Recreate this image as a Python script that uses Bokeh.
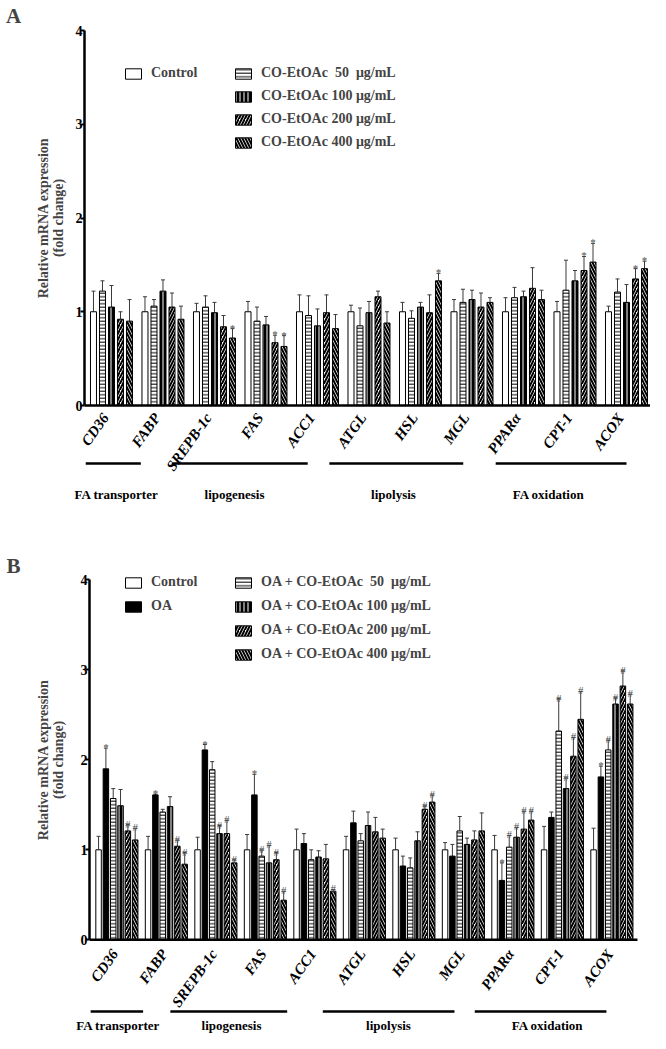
import math
import numpy as np
from bokeh.plotting import figure
from bokeh.models import (ColumnDataSource, Range1d, FixedTicker, Label,
                          Whisker, TeeHead, Legend, LegendItem)
from bokeh.layouts import column
from bokeh.embed import file_html
from bokeh.resources import INLINE
from bokeh.core.properties import value

SERIF = "Liberation Serif"

genes = ["CD36", "FABP", "SREPB-1c", "FAS", "ACC1", "ATGL", "HSL", "MGL", "PPARα", "CPT-1", "ACOX"]
group_names = ["FA transporter", "lipogenesis", "lipolysis", "FA oxidation"]

# ---------------- Panel A ----------------
a_series = ["Control", "CO-EtOAc  50  μg/mL", "CO-EtOAc 100 μg/mL",
            "CO-EtOAc 200 μg/mL", "CO-EtOAc 400 μg/mL"]
a_control = [1.00, 1.00, 1.00, 1.00, 1.00, 1.00, 1.00, 1.00, 1.00, 1.00, 1.00]
a_control_sem = [0.22, 0.16, 0.09, 0.11, 0.18, 0.07, 0.10, 0.13, 0.15, 0.11, 0.06]
a_50 = [1.22, 1.06, 1.05, 0.90, 0.96, 0.85, 0.93, 1.10, 1.15, 1.23, 1.21]
a_50_sem = [0.11, 0.07, 0.12, 0.15, 0.21, 0.19, 0.08, 0.14, 0.11, 0.32, 0.14]
a_100 = [1.05, 1.22, 0.99, 0.86, 0.85, 0.99, 1.05, 1.13, 1.16, 1.33, 1.10]
a_100_sem = [0.23, 0.12, 0.11, 0.09, 0.18, 0.12, 0.05, 0.10, 0.06, 0.11, 0.19]
a_200 = [0.92, 1.05, 0.84, 0.67, 0.99, 1.16, 0.99, 1.05, 1.25, 1.44, 1.35]
a_200_sem = [0.08, 0.15, 0.12, 0.08, 0.19, 0.06, 0.19, 0.15, 0.22, 0.15, 0.11]
a_400 = [0.90, 0.92, 0.72, 0.63, 0.82, 0.88, 1.33, 1.10, 1.13, 1.53, 1.46]
a_400_sem = [0.23, 0.14, 0.10, 0.115, 0.15, 0.12, 0.08, 0.05, 0.10, 0.20, 0.08]
a_none = ["", "", "", "", "", "", "", "", "", "", ""]
a_200_sig = ["", "", "", "*", "", "", "", "", "", "*", "*"]
a_400_sig = ["", "", "*", "*", "", "", "*", "", "", "*", "*"]

# ---------------- Panel B ----------------
b_series = ["Control", "OA", "OA + CO-EtOAc  50  μg/mL", "OA + CO-EtOAc 100 μg/mL",
            "OA + CO-EtOAc 200 μg/mL", "OA + CO-EtOAc 400 μg/mL"]
b_control = [1.00, 1.00, 1.00, 1.00, 1.00, 1.00, 1.00, 1.00, 1.00, 1.00, 1.00]
b_control_sem = [0.15, 0.15, 0.14, 0.17, 0.23, 0.15, 0.13, 0.08, 0.16, 0.26, 0.24]
b_oa = [1.90, 1.61, 2.11, 1.61, 1.07, 1.30, 0.82, 0.93, 0.66, 1.36, 1.81]
b_oa_sem = [0.23, 0.01, 0.06, 0.23, 0.11, 0.13, 0.11, 0.13, 0.195, 0.06, 0.12]
b_50 = [1.57, 1.42, 1.89, 0.93, 0.89, 1.10, 0.80, 1.21, 1.03, 2.32, 2.11]
b_50_sem = [0.11, 0.03, 0.09, 0.07, 0.11, 0.08, 0.11, 0.16, 0.13, 0.36, 0.11]
b_100 = [1.49, 1.48, 1.18, 0.855, 0.92, 1.27, 1.10, 1.06, 1.14, 1.68, 2.62]
b_100_sem = [0.18, 0.11, 0.09, 0.195, 0.07, 0.15, 0.10, 0.07, 0.11, 0.12, 0.07]
b_200 = [1.21, 1.04, 1.18, 0.89, 0.90, 1.20, 1.45, 1.11, 1.23, 2.04, 2.82]
b_200_sem = [0.07, 0.07, 0.15, 0.08, 0.16, 0.16, 0.04, 0.10, 0.20, 0.21, 0.17]
b_400 = [1.11, 0.84, 0.855, 0.44, 0.54, 1.13, 1.53, 1.21, 1.33, 2.45, 2.62]
b_400_sem = [0.13, 0.13, 0.035, 0.10, 0.02, 0.10, 0.08, 0.20, 0.10, 0.31, 0.11]
b_none = ["", "", "", "", "", "", "", "", "", "", ""]
b_oa_sig = ["*", "*", "*", "*", "", "", "", "", "*", "", "*"]
b_50_sig = ["", "", "", "#", "", "", "", "", "#", "#", "#"]
b_100_sig = ["", "", "#", "#", "", "", "", "", "#", "#", "#"]
b_200_sig = ["#", "#", "#", "#", "", "", "#", "", "#", "#", "#"]
b_400_sig = ["#", "#", "#", "#", "#", "", "#", "", "#", "#", "#"]

STY = {
    "control": dict(fill_color="white"),
    "oa": dict(fill_color="black"),
    "h": dict(fill_color="white", hatch_pattern="horizontal_line", hatch_color="black",
              hatch_scale=3.5, hatch_weight=1),
    "v": dict(fill_color="black", hatch_pattern="vertical_line", hatch_color="white",
              hatch_scale=4, hatch_weight=1),
    "r": dict(fill_color="white", hatch_pattern="right_diagonal_line", hatch_color="black",
              hatch_scale=6, hatch_weight=2),
    "l": dict(fill_color="white", hatch_pattern="left_diagonal_line", hatch_color="black",
              hatch_scale=6, hatch_weight=2),
}


def make_panel(letter, names, means, sems, sigs, styles, legend_split, cfg):
    p = figure(width=cfg["width"], height=cfg["height"],
               x_range=Range1d(*cfg["xr"]), y_range=Range1d(*cfg["yr"]),
               output_backend="svg", toolbar_location=None, x_axis_type=None,
               min_border_left=0, min_border_right=0,
               min_border_top=0, min_border_bottom=0)
    p.outline_line_color = None
    p.grid.grid_line_color = None
    p.background_fill_color = "white"

    ax = p.yaxis[0]
    ax.fixed_location = cfg["x_axis_at"]
    ax.bounds = (0, 4)
    ax.ticker = FixedTicker(ticks=[0, 1, 2, 3, 4])
    ax.axis_line_width = 2.5
    ax.major_tick_line_width = 2
    ax.major_tick_out = 4
    ax.major_tick_in = 0
    ax.minor_tick_line_color = None
    ax.major_label_standoff = -2
    ax.major_label_text_font = SERIF
    ax.major_label_text_font_style = "bold"
    ax.major_label_text_font_size = "14px"
    ax.major_label_text_color = "black"

    centers = np.arange(len(genes)) + 0.5
    n = len(names)
    rends = []
    for k in range(n):
        off = (k - (n - 1) / 2) * cfg["pitch"]
        m = np.array(means[k])
        s = np.array(sems[k])
        src = ColumnDataSource(dict(x=centers + off, top=m, upper=m + s, sig=sigs[k]))
        r = p.vbar(x="x", top="top", bottom=0, width=cfg["bw"], source=src,
                   line_color="black", line_width=1, **STY[styles[k]])
        rends.append(r)
        p.add_layout(Whisker(source=src, base="x", lower="top", upper="upper",
                             dimension="height", line_color="#3a3a3a", line_width=1,
                             lower_head=None,
                             upper_head=TeeHead(size=4, line_color="#3a3a3a", line_width=1)))
        p.text(x="x", y="upper", text="sig", source=src, text_align="center",
               text_baseline="alphabetic", y_offset=-1, text_font=value(SERIF),
               text_font_size="11px", text_color="#505050")

    # x baseline (from the y axis to the end of the category range)
    p.segment(x0=[cfg["x_axis_at"]], y0=[0], x1=[cfg["x_end"]], y1=[0],
              line_color="black", line_width=2.5)

    # gene labels (rotated, bold italic)
    for xc, g in zip(centers, genes):
        p.add_layout(Label(x=xc + cfg["gdx"], y=cfg["gy"], text=g, angle=0.95,
                           text_align="right", text_baseline="middle",
                           text_font=SERIF, text_font_style="bold italic",
                           text_font_size="15px", text_color="black"))

    # function groups
    bx0 = [a for a, b in cfg["brackets"]]
    bx1 = [b for a, b in cfg["brackets"]]
    p.segment(x0=bx0, y0=cfg["by"], x1=bx1, y1=cfg["by"], line_color="black", line_width=2.5)
    p.text(x=cfg["glx"], y=cfg["gly"], text=group_names, text_align="center",
           text_baseline="alphabetic", text_font=value(SERIF), text_font_style="bold",
           text_font_size="13px", text_color="black")

    # panel letter and y title
    p.add_layout(Label(x=cfg["letter"][0], y=cfg["letter"][1], text=letter,
                       text_font=SERIF, text_font_style="bold", text_font_size="21px",
                       text_align="center", text_baseline="middle"))
    for xt, t in zip(cfg["ytx"], ["Relative mRNA expression", "(fold change)"]):
        p.add_layout(Label(x=xt, y=2.0, text=t, angle=math.pi / 2, text_font=SERIF,
                           text_font_style="bold", text_font_size="14px",
                           text_align="center", text_baseline="middle"))

    # legends
    common = dict(glyph_width=20, glyph_height=13, label_height=16, label_standoff=8,
                  padding=0, margin=0, border_line_color=None, background_fill_alpha=0,
                  label_text_font=SERIF, label_text_font_style="bold",
                  label_text_font_size="14px", spacing=cfg["lsp"])
    items1 = [LegendItem(label=names[k], renderers=[rends[k]]) for k in range(legend_split)]
    items2 = [LegendItem(label=names[k], renderers=[rends[k]]) for k in range(legend_split, n)]
    p.add_layout(Legend(items=items1, location=cfg["leg1"], **common))
    p.add_layout(Legend(items=items2, location=cfg["leg2"], **common))
    return p


cfgA = dict(width=650, height=522, xr=(-1.655, 10.966), yr=(-1.248, 4.32),
            x_axis_at=-0.024, x_end=10.966,
            pitch=0.1748, bw=0.1165, gdx=-0.117, gy=-0.10,
            brackets=[(0.0, 1.07), (1.67, 4.31), (4.73, 7.33), (7.96, 10.5)], by=-0.619,
            glx=[0.597, 2.889, 5.976, 8.986], gly=-0.949,
            letter=(-1.403, 4.16), ytx=(-0.82, -0.529),
            lsp=7, leg1=(123, 441), leg2=(233, 372))

cfgB = dict(width=650, height=511, xr=(-1.851, 11.28), yr=(-1.041, 4.637),
            x_axis_at=-0.053, x_end=11.017,
            pitch=0.148, bw=0.111, gdx=-0.04, gy=-0.125,
            brackets=[(-0.03, 1.03), (1.58, 3.94), (4.66, 7.32), (7.73, 10.39)], by=-0.797,
            glx=[0.525, 2.816, 5.987, 9.199], gly=-0.952,
            letter=(-1.588, 4.15), ytx=(-0.982, -0.679),
            lsp=8, leg1=(123, 419), leg2=(233, 371))

pA = make_panel("A", a_series, [a_control, a_50, a_100, a_200, a_400],
                [a_control_sem, a_50_sem, a_100_sem, a_200_sem, a_400_sem],
                [a_none, a_none, a_none, a_200_sig, a_400_sig],
                ["control", "h", "v", "r", "l"], 1, cfgA)
pB = make_panel("B", b_series, [b_control, b_oa, b_50, b_100, b_200, b_400],
                [b_control_sem, b_oa_sem, b_50_sem, b_100_sem, b_200_sem, b_400_sem],
                [b_none, b_oa_sig, b_50_sig, b_100_sig, b_200_sig, b_400_sig],
                ["control", "oa", "h", "v", "r", "l"], 2, cfgB)

layout = column(pA, pB, spacing=0)
open("out.html", "w").write(file_html(layout, INLINE))
